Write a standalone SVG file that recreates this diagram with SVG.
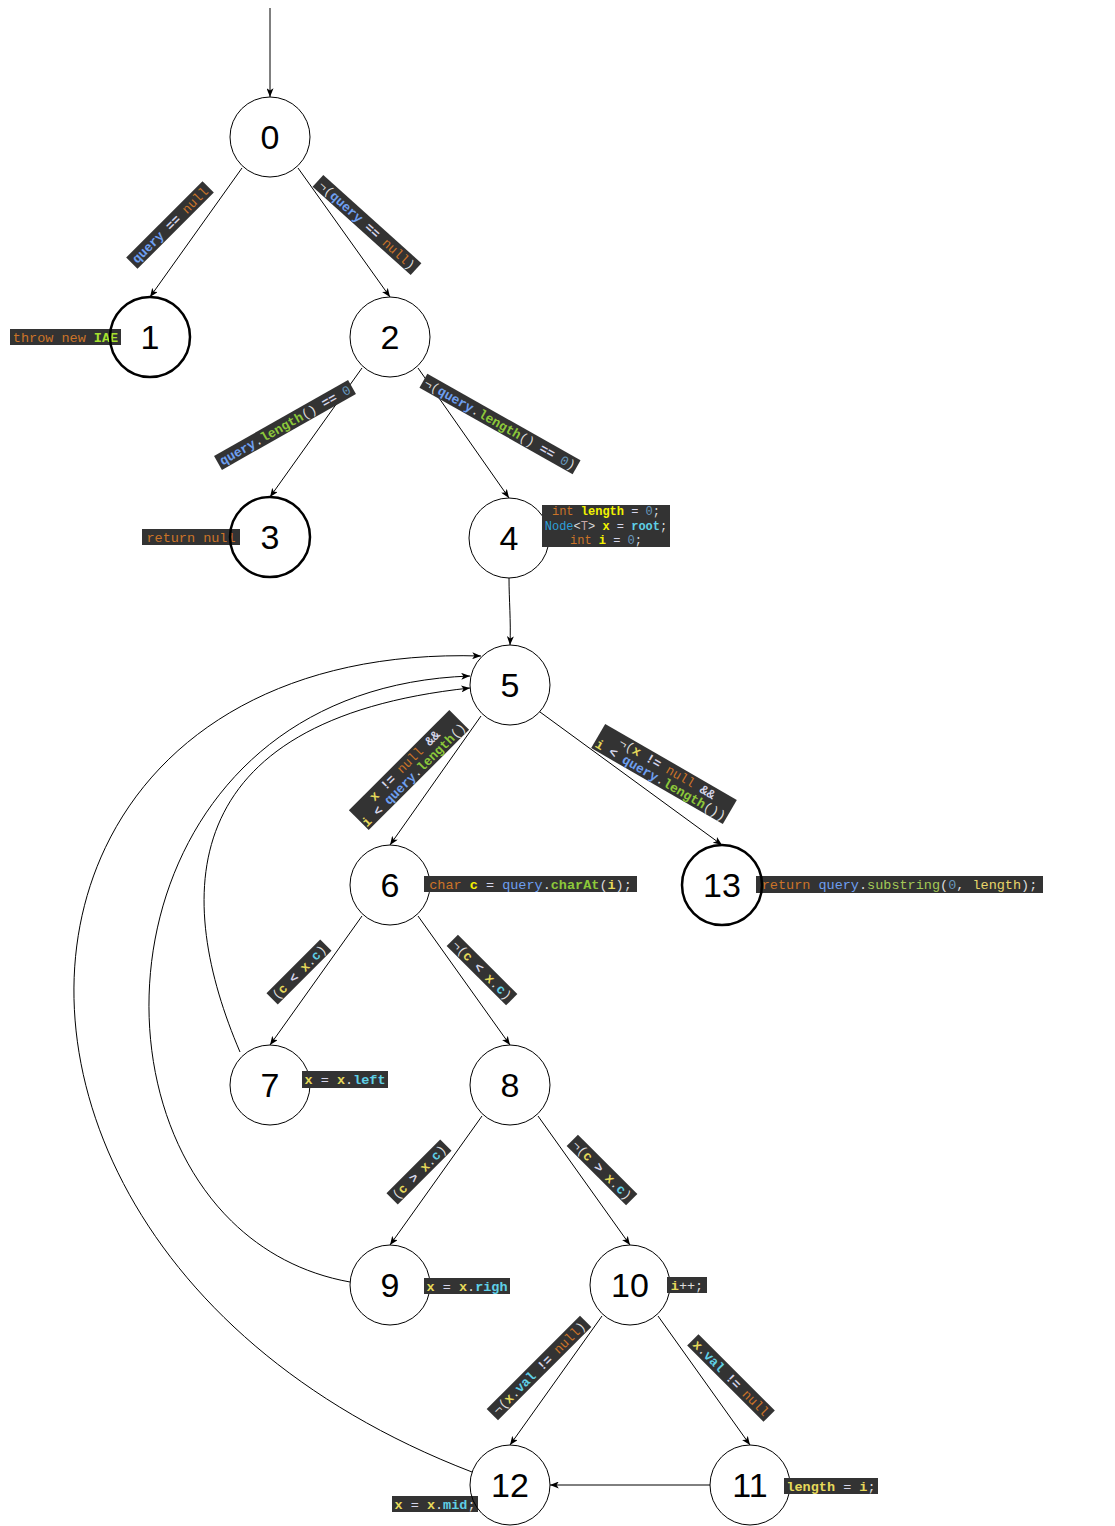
<svg xmlns="http://www.w3.org/2000/svg" width="1115" height="1526" viewBox="0 0 1115 1526">
<style>
  .bg{fill:#ffffff}
  .node{fill:none;stroke:#000;stroke-width:1}
  .final{fill:none;stroke:#000;stroke-width:2.5}
  .num{font-family:"Liberation Sans",Arial,sans-serif;font-size:34px;fill:#000;text-anchor:middle}
  .edge{fill:none;stroke:#000;stroke-width:1}
  .box{fill:#333333}
  .code{font-family:"Liberation Mono","Courier New",monospace;font-size:13.5px;text-anchor:middle;fill:#dcdcdc}
  .ec{font-size:13px}
  .ec .q,.ec .o{font-weight:bold}
  .small{font-size:12px}
  .k{fill:#cc7428}
  .q{fill:#6e9ff0}
  .g{fill:#8cc83a;font-weight:bold}
  .gl{fill:#a3c957}
  .y{fill:#e6d95a;font-weight:bold}
  .Y{fill:#f2f200;font-weight:bold}
  .c{fill:#5fd0e6;font-weight:bold}
  .o{fill:#d6d6ea}
  .n{fill:#6897bb}
  .t{fill:#2d9fd8}
  .p{fill:#c7a7a7}
  .ye{fill:#e8d66a}
  .lg{fill:#a6e22e;font-weight:bold}
</style>
<defs>
  <marker id="arr" viewBox="0 0 10 8" refX="10" refY="4" markerWidth="9" markerHeight="7" markerUnits="userSpaceOnUse" orient="auto">
    <path d="M0,0 L10,4 L0,8 L2.5,4 z" fill="#000"/>
  </marker>
</defs>
<rect class="bg" x="0" y="0" width="1115" height="1526"/>

<g id="connectors">
  <line class="edge" x1="270" y1="8" x2="270" y2="97" marker-end="url(#arr)"/>
  <line class="edge" x1="242" y1="168" x2="150" y2="297" marker-end="url(#arr)"/>
  <line class="edge" x1="298" y1="168" x2="390" y2="297" marker-end="url(#arr)"/>
  <line class="edge" x1="362" y1="368" x2="270" y2="497" marker-end="url(#arr)"/>
  <line class="edge" x1="418" y1="368" x2="509" y2="498" marker-end="url(#arr)"/>
  <path class="edge" d="M509,578 C509,600 511,620 510,645" marker-end="url(#arr)"/>
  <line class="edge" x1="481" y1="716" x2="390" y2="845" marker-end="url(#arr)"/>
  <line class="edge" x1="540" y1="712" x2="722" y2="845" marker-end="url(#arr)"/>
  <line class="edge" x1="362" y1="916" x2="270" y2="1045" marker-end="url(#arr)"/>
  <line class="edge" x1="418" y1="916" x2="510" y2="1045" marker-end="url(#arr)"/>
  <line class="edge" x1="482" y1="1116" x2="390" y2="1245" marker-end="url(#arr)"/>
  <line class="edge" x1="538" y1="1116" x2="630" y2="1245" marker-end="url(#arr)"/>
  <line class="edge" x1="602" y1="1316" x2="510" y2="1445" marker-end="url(#arr)"/>
  <line class="edge" x1="658" y1="1316" x2="750" y2="1445" marker-end="url(#arr)"/>
  <line class="edge" x1="710" y1="1485" x2="550" y2="1485" marker-end="url(#arr)"/>
  <!-- loop-back edges to node 5 -->
  <path class="edge" d="M240,1052 C175,900 170,720 470,688" marker-end="url(#arr)"/>
  <path class="edge" d="M350,1282 C60,1230 70,690 470,676" marker-end="url(#arr)"/>
  <path class="edge" d="M472,1472 C-80,1260 -40,640 481,656" marker-end="url(#arr)"/>

  <!-- edge labels -->
  <g transform="translate(170,225) rotate(-45)">
    <rect class="box" x="-54" y="-8" width="108" height="16"/>
    <text class="code ec" y="4.5"><tspan class="q">query</tspan> <tspan class="o">==</tspan> <tspan class="k">null</tspan></text>
  </g>
  <g transform="translate(367,225) rotate(42)">
    <rect class="box" x="-66" y="-8" width="132" height="16"/>
    <text class="code ec" y="4.5">¬(<tspan class="q">query</tspan> <tspan class="o">==</tspan> <tspan class="k">null</tspan>)</text>
  </g>
  <g transform="translate(285,425) rotate(-29.5)">
    <rect class="box" x="-77" y="-8" width="154" height="16"/>
    <text class="code ec" y="4.5"><tspan class="q">query</tspan>.<tspan class="g">length</tspan>() <tspan class="o">==</tspan> <tspan class="n">0</tspan></text>
  </g>
  <g transform="translate(500,424) rotate(29.5)">
    <rect class="box" x="-88" y="-8" width="176" height="16"/>
    <text class="code ec" y="4.5">¬(<tspan class="q">query</tspan>.<tspan class="g">length</tspan>() <tspan class="o">==</tspan> <tspan class="n">0</tspan>)</text>
  </g>
  <g transform="translate(409,770) rotate(-45)">
    <rect class="box" x="-71" y="-14" width="142" height="28"/>
    <text class="code ec" y="-2"><tspan class="y">x</tspan> <tspan class="o">!=</tspan> <tspan class="k">null</tspan> <tspan class="o">&amp;&amp;</tspan></text>
    <text class="code ec" y="11"><tspan class="y">i</tspan> <tspan class="o">&lt;</tspan> <tspan class="q">query</tspan>.<tspan class="g">length</tspan>()</text>
  </g>
  <g transform="translate(664,774) rotate(30)">
    <rect class="box" x="-76" y="-14" width="152" height="28"/>
    <text class="code ec" y="-2">¬(<tspan class="y">x</tspan> <tspan class="o">!=</tspan> <tspan class="k">null</tspan> <tspan class="o">&amp;&amp;</tspan></text>
    <text class="code ec" y="11"><tspan class="y">i</tspan> <tspan class="o">&lt;</tspan> <tspan class="q">query</tspan>.<tspan class="g">length</tspan>())</text>
  </g>
  <g transform="translate(299,972) rotate(-45)">
    <rect class="box" x="-38" y="-8" width="76" height="16"/>
    <text class="code ec" y="4.5">(<tspan class="y">c</tspan> <tspan class="o">&lt;</tspan> <tspan class="y">x</tspan>.<tspan class="c">c</tspan>)</text>
  </g>
  <g transform="translate(482,970) rotate(45)">
    <rect class="box" x="-42" y="-8" width="84" height="16"/>
    <text class="code ec" y="4.5">¬(<tspan class="y">c</tspan> <tspan class="o">&lt;</tspan> <tspan class="y">x</tspan>.<tspan class="c">c</tspan>)</text>
  </g>
  <g transform="translate(419,1172) rotate(-45)">
    <rect class="box" x="-38" y="-8" width="76" height="16"/>
    <text class="code ec" y="4.5">(<tspan class="y">c</tspan> <tspan class="o">&gt;</tspan> <tspan class="y">x</tspan>.<tspan class="c">c</tspan>)</text>
  </g>
  <g transform="translate(602,1170) rotate(45)">
    <rect class="box" x="-42" y="-8" width="84" height="16"/>
    <text class="code ec" y="4.5">¬(<tspan class="y">c</tspan> <tspan class="o">&gt;</tspan> <tspan class="y">x</tspan>.<tspan class="c">c</tspan>)</text>
  </g>
  <g transform="translate(539,1368) rotate(-45)">
    <rect class="box" x="-66" y="-8" width="132" height="16"/>
    <text class="code ec" y="4.5">¬(<tspan class="y">x</tspan>.<tspan class="c">val</tspan> <tspan class="o">!=</tspan> <tspan class="k">null</tspan>)</text>
  </g>
  <g transform="translate(731,1378) rotate(45)">
    <rect class="box" x="-54" y="-8" width="108" height="16"/>
    <text class="code ec" y="4.5"><tspan class="y">x</tspan>.<tspan class="c">val</tspan> <tspan class="o">!=</tspan> <tspan class="k">null</tspan></text>
  </g>
</g>

<g id="node-0">
  <circle class="node" cx="270" cy="137" r="40"/>
  <text class="num" x="270" y="149">0</text>
</g>
<g id="node-1">
  <rect class="box" x="10" y="329" width="111" height="16"/>
  <text class="code" x="65.5" y="341.5"><tspan class="k">throw new</tspan> <tspan class="lg">IAE</tspan></text>
  <circle class="final" cx="150" cy="337" r="40"/>
  <text class="num" x="150" y="349">1</text>
</g>
<g id="node-2">
  <circle class="node" cx="390" cy="337" r="40"/>
  <text class="num" x="390" y="349">2</text>
</g>
<g id="node-3">
  <rect class="box" x="142" y="529" width="98" height="16"/>
  <text class="code" x="191" y="541.5"><tspan class="k">return null</tspan></text>
  <circle class="final" cx="270" cy="537" r="40"/>
  <text class="num" x="270" y="549">3</text>
</g>
<g id="node-4">
  <circle class="node" cx="509" cy="538" r="40"/>
  <text class="num" x="509" y="550">4</text>
  <rect class="box" x="542" y="505" width="128" height="42"/>
  <text class="code small" x="606" y="515"><tspan class="k">int</tspan> <tspan class="Y">length</tspan> <tspan class="o">=</tspan> <tspan class="n">0</tspan>;</text>
  <text class="code small" x="606" y="529.5"><tspan class="t">Node</tspan>&lt;<tspan class="p">T</tspan>&gt; <tspan class="Y">x</tspan> <tspan class="o">=</tspan> <tspan class="c">root</tspan>;</text>
  <text class="code small" x="606" y="544"><tspan class="k">int</tspan> <tspan class="Y">i</tspan> <tspan class="o">=</tspan> <tspan class="n">0</tspan>;</text>
</g>
<g id="node-5">
  <circle class="node" cx="510" cy="685" r="40"/>
  <text class="num" x="510" y="697">5</text>
</g>
<g id="node-6">
  <circle class="node" cx="390" cy="885" r="40"/>
  <text class="num" x="390" y="897">6</text>
  <rect class="box" x="424" y="876" width="213" height="16"/>
  <text class="code" x="530.5" y="888.5"><tspan class="k">char</tspan> <tspan class="Y">c</tspan> <tspan class="o">=</tspan> <tspan class="q">query</tspan>.<tspan class="g">charAt</tspan>(<tspan class="y">i</tspan>);</text>
</g>
<g id="node-13">
  <rect class="box" x="756" y="876" width="287" height="17"/>
  <text class="code" x="899.5" y="889"><tspan class="k">return</tspan> <tspan class="q">query</tspan>.<tspan class="gl">substring</tspan>(<tspan class="n">0</tspan>, <tspan class="ye">length</tspan>);</text>
  <circle class="final" cx="722" cy="885" r="40"/>
  <text class="num" x="722" y="897">13</text>
</g>
<g id="node-7">
  <circle class="node" cx="270" cy="1085" r="40"/>
  <text class="num" x="270" y="1097">7</text>
  <rect class="box" x="302" y="1071" width="86" height="17"/>
  <text class="code" x="345" y="1084"><tspan class="y">x</tspan> <tspan class="o">=</tspan> <tspan class="y">x</tspan>.<tspan class="c">left</tspan></text>
</g>
<g id="node-8">
  <circle class="node" cx="510" cy="1085" r="40"/>
  <text class="num" x="510" y="1097">8</text>
</g>
<g id="node-9">
  <circle class="node" cx="390" cy="1285" r="40"/>
  <text class="num" x="390" y="1297">9</text>
  <rect class="box" x="424" y="1278" width="86" height="16"/>
  <text class="code" x="467" y="1290.5"><tspan class="y">x</tspan> <tspan class="o">=</tspan> <tspan class="y">x</tspan>.<tspan class="c">righ</tspan></text>
</g>
<g id="node-10">
  <circle class="node" cx="630" cy="1285" r="40"/>
  <text class="num" x="630" y="1297">10</text>
  <rect class="box" x="667" y="1277" width="40" height="16"/>
  <text class="code" x="687" y="1289.5"><tspan class="y">i</tspan>++;</text>
</g>
<g id="node-11">
  <circle class="node" cx="750" cy="1485" r="40"/>
  <text class="num" x="750" y="1497">11</text>
  <rect class="box" x="784" y="1478" width="94" height="16"/>
  <text class="code" x="831" y="1490.5"><tspan class="y">length</tspan> <tspan class="o">=</tspan> <tspan class="y">i</tspan>;</text>
</g>
<g id="node-12">
  <rect class="box" x="392" y="1496" width="86" height="16"/>
  <text class="code" x="435" y="1508.5"><tspan class="y">x</tspan> <tspan class="o">=</tspan> <tspan class="y">x</tspan>.<tspan class="c">mid</tspan>;</text>
  <circle class="node" cx="510" cy="1485" r="40"/>
  <text class="num" x="510" y="1497">12</text>
</g>
</svg>
